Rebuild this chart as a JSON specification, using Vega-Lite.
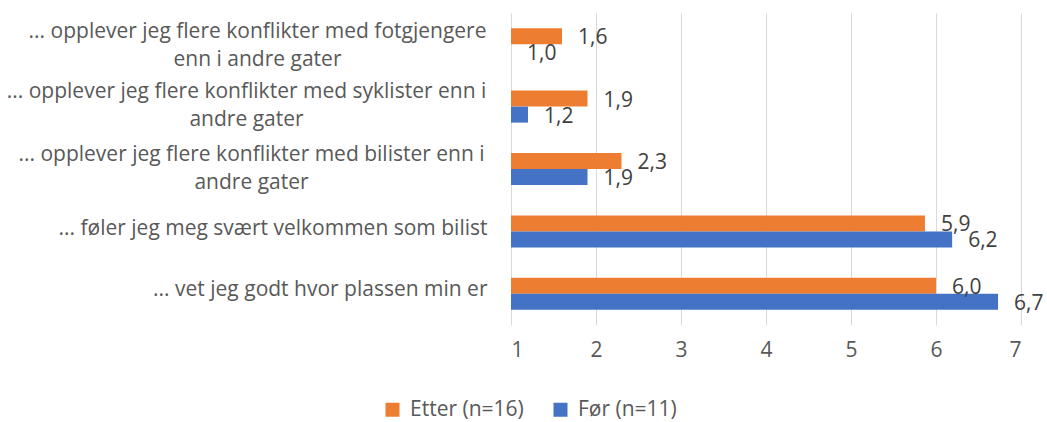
{
  "$schema": "https://vega.github.io/schema/vega-lite/v6.json",
  "width": 510,
  "height": 312,
  "autosize": "none",
  "padding": {"left": 511, "top": 13, "right": 26, "bottom": 97},
  "config": {
    "view": {"stroke": null},
    "font": "Open Sans",
    "locale": {"number": {"decimal": ",", "thousands": " ", "grouping": [3], "currency": ["", " kr"]}}
  },
  "data": {
    "values": [
      {"q": "... opplever jeg flere konflikter med fotgjengere|enn i andre gater", "group": "Etter (n=16)", "value": 1.6},
      {"q": "... opplever jeg flere konflikter med fotgjengere|enn i andre gater", "group": "Før (n=11)", "value": 1.0},
      {"q": "... opplever jeg flere konflikter med syklister enn i|andre gater", "group": "Etter (n=16)", "value": 1.9},
      {"q": "... opplever jeg flere konflikter med syklister enn i|andre gater", "group": "Før (n=11)", "value": 1.2},
      {"q": "... opplever jeg flere konflikter med bilister enn i|andre gater", "group": "Etter (n=16)", "value": 2.3},
      {"q": "... opplever jeg flere konflikter med bilister enn i|andre gater", "group": "Før (n=11)", "value": 1.9},
      {"q": "... føler jeg meg svært velkommen som bilist", "group": "Etter (n=16)", "value": 5.87},
      {"q": "... føler jeg meg svært velkommen som bilist", "group": "Før (n=11)", "value": 6.19},
      {"q": "... vet jeg godt hvor plassen min er", "group": "Etter (n=16)", "value": 6.0},
      {"q": "... vet jeg godt hvor plassen min er", "group": "Før (n=11)", "value": 6.73}
    ]
  },
  "encoding": {
    "y": {
      "field": "q",
      "type": "nominal",
      "sort": null,
      "scale": {"paddingInner": 0.487, "paddingOuter": 0.2435},
      "axis": {
        "title": null,
        "domain": false,
        "ticks": false,
        "grid": false,
        "labelExpr": "split(datum.label, '|')",
        "labelLineHeight": 28,
        "labelFontSize": 21,
        "labelColor": "#595959",
        "labelLimit": 600,
        "labelAlign": {"condition": {"test": "indexof(datum.value, '|') >= 0", "value": "center"}, "value": "right"},
        "labelPadding": {"condition": [
          {"test": "indexof(datum.value, 'fotgjengere') >= 0", "value": 254},
          {"test": "indexof(datum.value, 'syklister') >= 0", "value": 265},
          {"test": "indexof(datum.value, 'bilister enn') >= 0", "value": 260}
        ], "value": 24},
        "labelOffset": {"condition": [
          {"test": "indexof(datum.value, 'fotgjengere') >= 0", "value": -12},
          {"test": "indexof(datum.value, 'syklister') >= 0", "value": -15},
          {"test": "indexof(datum.value, 'bilister enn') >= 0", "value": -14},
          {"test": "indexof(datum.value, 'vet jeg') >= 0", "value": -4}
        ], "value": -2}
      }
    },
    "yOffset": {
      "field": "group",
      "type": "nominal",
      "sort": ["Etter (n=16)", "Før (n=11)"],
      "scale": {"paddingInner": 0, "paddingOuter": 0}
    },
    "x": {
      "field": "value",
      "type": "quantitative",
      "scale": {"domain": [1, 7], "zero": false, "nice": false},
      "axis": {
        "title": null,
        "values": [1, 2, 3, 4, 5, 6, 7],
        "format": "d",
        "domain": false,
        "ticks": false,
        "grid": true,
        "gridColor": "#D9D9D9",
        "gridWidth": 1,
        "labelFontSize": 21,
        "labelColor": "#595959",
        "labelBaseline": "top",
        "labelPadding": 14
      }
    }
  },
  "layer": [
    {
      "mark": {"type": "bar"},
      "encoding": {
        "x2": {"datum": 1},
        "color": {
          "field": "group",
          "type": "nominal",
          "scale": {"domain": ["Etter (n=16)", "Før (n=11)"], "range": ["#ED7D31", "#4472C4"]},
          "legend": {
            "title": null,
            "orient": "none",
            "direction": "horizontal",
            "legendX": -129,
            "legendY": 386,
            "symbolType": "square",
            "symbolSize": 196,
            "symbolStrokeWidth": 0,
            "labelFontSize": 21,
            "labelColor": "#595959",
            "labelOffset": 7,
            "columnPadding": 26,
            "labelLimit": 300
          }
        }
      }
    },
    {
      "mark": {"type": "text", "align": "left", "baseline": "middle", "dx": 16, "dy": 2, "fontSize": 21, "color": "#404040"},
      "encoding": {
        "text": {"field": "value", "type": "quantitative", "format": ".1f"}
      }
    }
  ]
}
